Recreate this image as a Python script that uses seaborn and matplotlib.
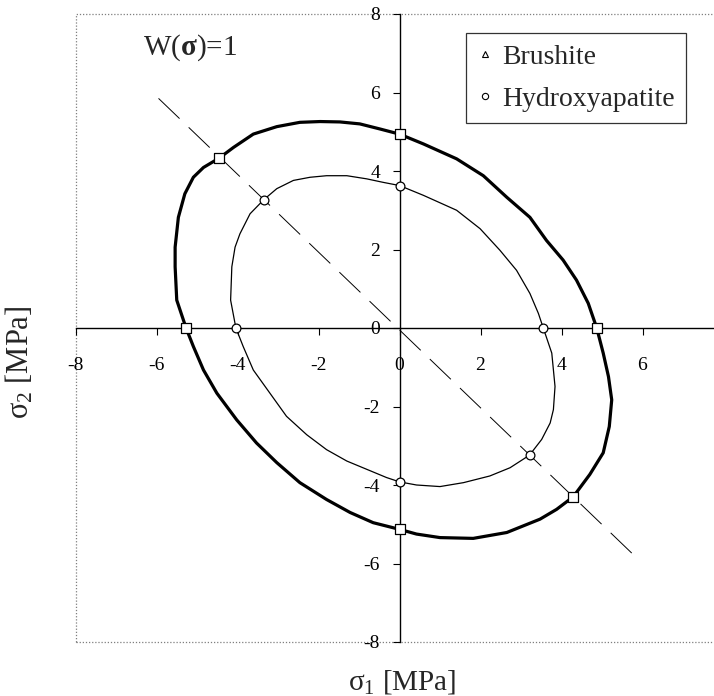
import matplotlib
matplotlib.use("Agg")
import matplotlib.pyplot as plt
from matplotlib.lines import Line2D
from matplotlib.patches import Rectangle
import pandas as pd
import seaborn as sns

# Failure envelope W(sigma)=1 for brushite (outer), MPa
brushite_s1 = [4.87, 4.66, 4.37, 4.04, 3.63, 3.22, 2.65, 2.07, 1.41, 0.59, 0.0,
               -0.48, -0.98, -1.47, -1.96, -2.46, -3.03, -3.61, -4.10, -4.45, -4.84,
               -5.09, -5.30, -5.46, -5.54, -5.54, -5.50, -5.27, -5.09, -4.84, -4.51,
               -4.02, -3.53, -3.03, -2.46, -1.80, -1.22, -0.65, 0.0, 0.42, 1.00,
               1.82, 2.65, 3.47, 3.88, 4.29, 4.70, 5.03, 5.18, 5.24, 5.16, 5.03, 4.87]
brushite_s2 = [0.0, 0.63, 1.22, 1.73, 2.23, 2.82, 3.33, 3.88, 4.31, 4.69, 4.94,
               5.07, 5.20, 5.25, 5.26, 5.24, 5.13, 4.94, 4.60, 4.33, 4.09,
               3.84, 3.42, 2.82, 2.06, 1.56, 0.71, 0.0, -0.47, -1.07, -1.66,
               -2.34, -2.93, -3.43, -3.94, -4.37, -4.70, -4.96, -5.13, -5.25, -5.34,
               -5.36, -5.21, -4.87, -4.62, -4.30, -3.73, -3.18, -2.51, -1.83, -1.24, -0.64, 0.0]

# Failure envelope W(sigma)=1 for hydroxyapatite (inner), MPa
hap_s1 = [3.55, 3.43, 3.22, 2.89, 2.48, 1.99, 1.41, 0.59, 0.0, -0.40, -0.81,
          -1.30, -1.80, -2.21, -2.62, -3.03, -3.35, -3.69, -3.94, -4.06, -4.14,
          -4.17, -4.04, -3.86, -3.61, -3.20, -2.79, -2.29, -1.80, -1.30, -0.81,
          -0.32, 0.0, 0.42, 1.00, 1.58, 2.23, 2.73, 3.21, 3.51, 3.72, 3.80,
          3.84, 3.76, 3.55]
hap_s2 = [0.0, 0.37, 0.88, 1.47, 1.98, 2.53, 3.00, 3.38, 3.63, 3.71, 3.80,
          3.88, 3.88, 3.84, 3.76, 3.55, 3.27, 2.91, 2.40, 2.06, 1.56,
          0.71, 0.0, -0.47, -1.07, -1.66, -2.25, -2.72, -3.10, -3.39, -3.60,
          -3.81, -3.92, -4.00, -4.04, -3.94, -3.77, -3.56, -3.24, -2.84, -2.42, -2.08,
          -1.49, -0.64, 0.0]

# Points where the envelopes cross the axes and the sigma2 = -sigma1 line
brushite_pts_s1 = [-5.27, 4.87, 0.0, 0.0, -4.45, 4.29]
brushite_pts_s2 = [0.0, 0.0, 4.94, -5.13, 4.33, -4.30]
hap_pts_s1 = [-4.04, 3.55, 0.0, 0.0, -3.35, 3.21]
hap_pts_s2 = [0.0, 0.0, 3.63, -3.92, 3.27, -3.24]

# Pure shear direction
diag_s1 = [-5.95, 5.8]
diag_s2 = [5.85, -5.8]

ticks = [-8, -6, -4, -2, 0, 2, 4, 6, 8]
series_names = ["Brushite", "Hydroxyapatite"]

sns.set_theme(style="white")
plt.rcParams["font.family"] = ["Liberation Serif", "DejaVu Serif"]
plt.rcParams["axes.unicode_minus"] = False
plt.rcParams["mathtext.fontset"] = "custom"
plt.rcParams["mathtext.rm"] = "Liberation Serif"
plt.rcParams["mathtext.it"] = "Liberation Serif:italic"
plt.rcParams["mathtext.bf"] = "Liberation Serif:bold"

W, H = 714, 696
fig = plt.figure(figsize=(W / 100, H / 100), dpi=100)
fig.patch.set_facecolor("white")
ax = fig.add_axes([75.5 / W, (H - 642) / H, 648 / W, 628 / H])
ax.set_facecolor("white")

outer = pd.DataFrame({"s1": brushite_s1, "s2": brushite_s2})
inner = pd.DataFrame({"s1": hap_s1, "s2": hap_s2})
diag = pd.DataFrame({"s1": diag_s1, "s2": diag_s2})

sns.lineplot(data=diag, x="s1", y="s2", sort=False, estimator=None, color="black",
             lw=0.7, linestyle=(0, (30, 13)), ax=ax, zorder=2)
sns.lineplot(data=outer, x="s1", y="s2", sort=False, estimator=None, color="black",
             lw=2.3, ax=ax, zorder=3)
sns.lineplot(data=inner, x="s1", y="s2", sort=False, estimator=None, color="black",
             lw=0.9, ax=ax, zorder=3)

sns.scatterplot(x=brushite_pts_s1, y=brushite_pts_s2, marker="s", s=42,
                facecolor="white", edgecolor="black", linewidth=0.9, ax=ax, zorder=5)
sns.scatterplot(x=hap_pts_s1, y=hap_pts_s2, marker="o", s=40,
                facecolor="white", edgecolor="black", linewidth=0.9, ax=ax, zorder=5)

ax.set_xlim(-8, 8)
ax.set_ylim(-8, 8)
ax.set_xticks(ticks)
ax.set_yticks(ticks)
ax.set_xticklabels([str(t) for t in ticks])
ax.set_yticklabels([str(t) for t in ticks])
ax.set_xlabel("")
ax.set_ylabel("")

for side in ("top", "right"):
    ax.spines[side].set_visible(False)
for side in ("left", "bottom"):
    ax.spines[side].set_position("zero")
    ax.spines[side].set_color("black")
    ax.spines[side].set_linewidth(1.0)
    ax.spines[side].set_zorder(1)

ax.tick_params(axis="x", bottom=True, direction="out", length=5, width=0.8,
               color="black", pad=16, labelsize=14, labelcolor="black")
ax.tick_params(axis="y", left=True, direction="out", length=5, width=0.8,
               color="black", pad=9, labelsize=14, labelcolor="black")

ax.add_patch(Rectangle((0, 0), 1, 1, transform=ax.transAxes, fill=False,
                       ls=(0, (1, 1.5)), ec="#7f7f7f", lw=0.9, clip_on=False, zorder=0))

handles = [
    Line2D([], [], ls="none", marker="^", ms=4.5, mfc="white", mec="black", mew=0.8),
    Line2D([], [], ls="none", marker="o", ms=4.5, mfc="white", mec="black", mew=0.8),
]
leg = ax.legend(handles, series_names, loc="upper left",
                bbox_to_anchor=(466 / W, 1 - 33 / H), bbox_transform=fig.transFigure,
                fontsize=20, frameon=True, fancybox=False, framealpha=1,
                edgecolor="#333333", borderpad=0.4, handletextpad=0.3,
                handlelength=0.6, labelspacing=0.6, borderaxespad=0)
leg.get_frame().set_linewidth(0.9)

fig.text(143 / W, 1 - 48 / H, r"W($\mathbf{\sigma}$)=1", fontsize=21,
         ha="left", va="center")
fig.text(402 / W, 1 - 682 / H, r"$\mathregular{\sigma_1}$ [MPa]", fontsize=21,
         ha="center", va="center")
fig.text(20 / W, 1 - 362 / H, r"$\mathregular{\sigma_2}$ [MPa]", fontsize=22,
         ha="center", va="center", rotation=90)

fig.savefig("out.png", dpi=100)
